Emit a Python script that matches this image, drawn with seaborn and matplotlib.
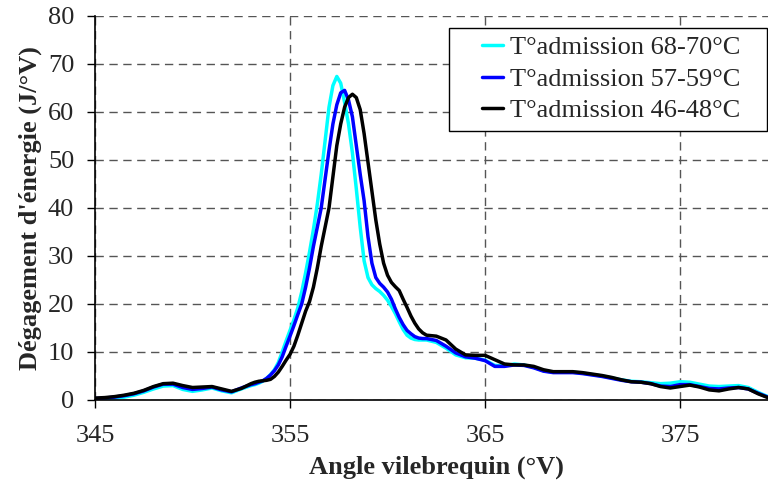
import numpy as np
import pandas as pd
import matplotlib
matplotlib.use("Agg")
import matplotlib.pyplot as plt
from matplotlib.patches import Rectangle
import seaborn as sns

# crank angle grid (°V): coarse on the flanks, finer around the peak
angle_low = [345.0, 345.5, 346.0, 346.5, 347.0, 347.5, 348.0, 348.5,
             349.0, 349.5, 350.0, 350.5, 351.0, 351.5, 352.0, 352.5]
angle_mid = [353.0, 353.2, 353.4, 353.6, 353.8, 354.0, 354.2, 354.4, 354.6, 354.8,
             355.0, 355.2, 355.4, 355.6, 355.8, 356.0, 356.2, 356.4, 356.6, 356.8,
             357.0, 357.2, 357.4, 357.6, 357.8, 358.0, 358.2, 358.4, 358.6, 358.8,
             359.0, 359.2, 359.4, 359.6, 359.8, 360.0, 360.2, 360.4, 360.6, 360.8,
             361.0, 361.2, 361.4, 361.6, 361.8, 362.0]
angle_high = [362.5, 363.0, 363.5, 364.0, 364.5, 365.0, 365.5, 366.0, 366.5, 367.0,
              367.5, 368.0, 368.5, 369.0, 369.5, 370.0, 370.5, 371.0, 371.5, 372.0,
              372.5, 373.0, 373.5, 374.0, 374.5, 375.0, 375.5, 376.0, 376.5, 377.0,
              377.5, 378.0, 378.5, 379.0, 379.5, 380.0]
angle = angle_low + angle_mid + angle_high

# heat release (J/°V)
hr_68_70 = [0.2, 0.3, 0.4, 0.6, 1.0, 1.6, 2.3, 2.9, 3.0, 2.2, 1.8, 2.1, 2.5, 1.9, 1.5, 2.3,
            3.0, 3.2, 3.5, 3.9, 4.5, 5.3, 6.3, 7.8, 10.0, 12.3,
            14.5, 16.7, 19.2, 22.5, 26.5, 30.8, 35.5, 40.8, 47.0, 54.0,
            61.0, 65.5, 67.4, 66.0, 62.0, 57.5, 51.5, 44.0, 36.0, 29.0,
            25.5, 24.0, 23.2, 22.6, 21.8, 20.8, 19.5, 18.0, 16.3, 14.7,
            13.5, 12.9, 12.6, 12.5, 12.5, 12.5,
            12.0, 10.8, 9.4, 8.8, 8.7, 8.3, 7.2, 7.1, 7.5, 7.3,
            6.8, 6.1, 5.8, 5.8, 5.8, 5.6, 5.3, 5.0, 4.6, 4.2,
            3.9, 3.8, 3.6, 3.4, 3.5, 3.8, 3.7, 3.3, 2.9, 2.8,
            2.9, 3.0, 2.6, 1.6, 0.7, 0.3]
hr_57_59 = [0.3, 0.4, 0.6, 0.9, 1.3, 1.9, 2.7, 3.3, 3.3, 2.6, 2.2, 2.4, 2.7, 2.1, 1.7, 2.5,
            3.2, 3.4, 3.7, 4.0, 4.5, 5.2, 6.1, 7.3, 9.0, 11.2,
            13.3, 15.5, 17.8, 20.0, 23.5, 27.5, 32.0, 36.0, 40.0, 46.0,
            52.0, 57.5, 61.5, 64.0, 64.5, 62.5, 59.0, 53.0, 47.0, 41.5,
            34.0, 28.5, 25.5, 24.3, 23.5, 22.5, 21.0, 19.0, 17.2, 15.7,
            14.5, 13.8, 13.2, 12.9, 12.8, 12.8,
            12.4, 11.2, 9.8, 9.0, 8.7, 8.2, 7.0, 7.0, 7.3, 7.2,
            6.7, 6.0, 5.7, 5.7, 5.7, 5.5, 5.2, 4.9, 4.5, 4.1,
            3.8, 3.7, 3.4, 2.9, 2.8, 3.2, 3.2, 2.8, 2.4, 2.3,
            2.5, 2.6, 2.3, 1.4, 0.6, 0.3]
hr_46_48 = [0.4, 0.5, 0.7, 1.0, 1.4, 2.0, 2.8, 3.4, 3.5, 3.0, 2.6, 2.7, 2.8, 2.3, 1.8, 2.4,
            3.4, 3.7, 3.9, 4.0, 4.1, 4.3, 4.9, 5.8, 7.0, 8.3,
            9.5, 11.2, 13.5, 16.0, 18.5, 20.5, 23.5, 27.5, 32.0, 36.0,
            40.0, 46.5, 53.0, 57.5, 61.0, 63.0, 63.7, 63.0, 60.5, 55.5,
            49.5, 43.5, 37.5, 32.5, 28.5, 26.0, 24.5, 23.6, 22.8, 21.0,
            19.3, 17.5, 16.0, 14.8, 14.0, 13.5,
            13.3, 12.5, 10.6, 9.4, 9.3, 9.3, 8.4, 7.5, 7.3, 7.3,
            7.0, 6.3, 5.9, 5.9, 5.9, 5.7, 5.4, 5.1, 4.7, 4.2,
            3.8, 3.7, 3.4, 2.8, 2.5, 2.8, 3.1, 2.7, 2.1, 1.9,
            2.3, 2.6, 2.3, 1.3, 0.5, 0.2]

labels = ["T°admission 68-70°C", "T°admission 57-59°C", "T°admission 46-48°C"]
colors = ["#00FFFF", "#0000FF", "#000000"]

df = pd.concat([
    pd.DataFrame({"angle": angle, "hr": vals, "serie": lab})
    for vals, lab in zip([hr_68_70, hr_57_59, hr_46_48], labels)
])

sns.set_theme(style="white")
plt.rcParams["font.family"] = ["Liberation Serif", "DejaVu Serif"]

fig = plt.figure(figsize=(7.68, 4.8), dpi=100)
ax = fig.add_axes([0.1237, 0.1667, 0.8887, 0.8])

sns.lineplot(data=df, x="angle", y="hr", hue="serie", hue_order=labels,
             palette=dict(zip(labels, colors)), linewidth=2.5, ax=ax,
             estimator=None, sort=False)

ax.set_xlim(345, 380)
ax.set_ylim(0, 80)
ax.set_xticks([345, 355, 365, 375])
ax.set_yticks(np.arange(0, 81, 10))
ax.grid(True, linestyle=(0, (6, 4)), color="#555555", linewidth=1.0)
ax.set_axisbelow(True)

for side in ["top", "right"]:
    ax.spines[side].set_visible(False)
for side in ["left", "bottom"]:
    ax.spines[side].set_color("black")
    ax.spines[side].set_linewidth(1.2)

ax.tick_params(axis="both", direction="out", length=6, width=1, color="black",
               labelsize=19, left=True, bottom=True)
ax.tick_params(axis="x", pad=12)
ax.tick_params(axis="y", pad=9)

ax.set_xlabel("Angle vilebrequin (°V)", fontsize=19, fontweight="bold", labelpad=6)
ax.set_ylabel("Dégagement d'énergie (J/°V)", fontsize=19, fontweight="bold", labelpad=4)

# legend box (Excel style, wider than its content)
box = Rectangle((0.5846, 0.7271), 0.4141, 0.2146, transform=fig.transFigure,
                facecolor="white", edgecolor="black", linewidth=1.0,
                zorder=4, clip_on=False)
ax.add_patch(box)

leg = ax.legend(loc="upper right", bbox_to_anchor=(0.974, 0.9417),
                bbox_transform=fig.transFigure, fontsize=19, frameon=False,
                handlelength=0.8, handletextpad=0.27, borderpad=0.3,
                labelspacing=0.3, borderaxespad=0)
leg.set_zorder(5)
for line in leg.get_lines():
    line.set_linewidth(2.5)

fig.savefig("out.png", dpi=100)
plt.close(fig)
